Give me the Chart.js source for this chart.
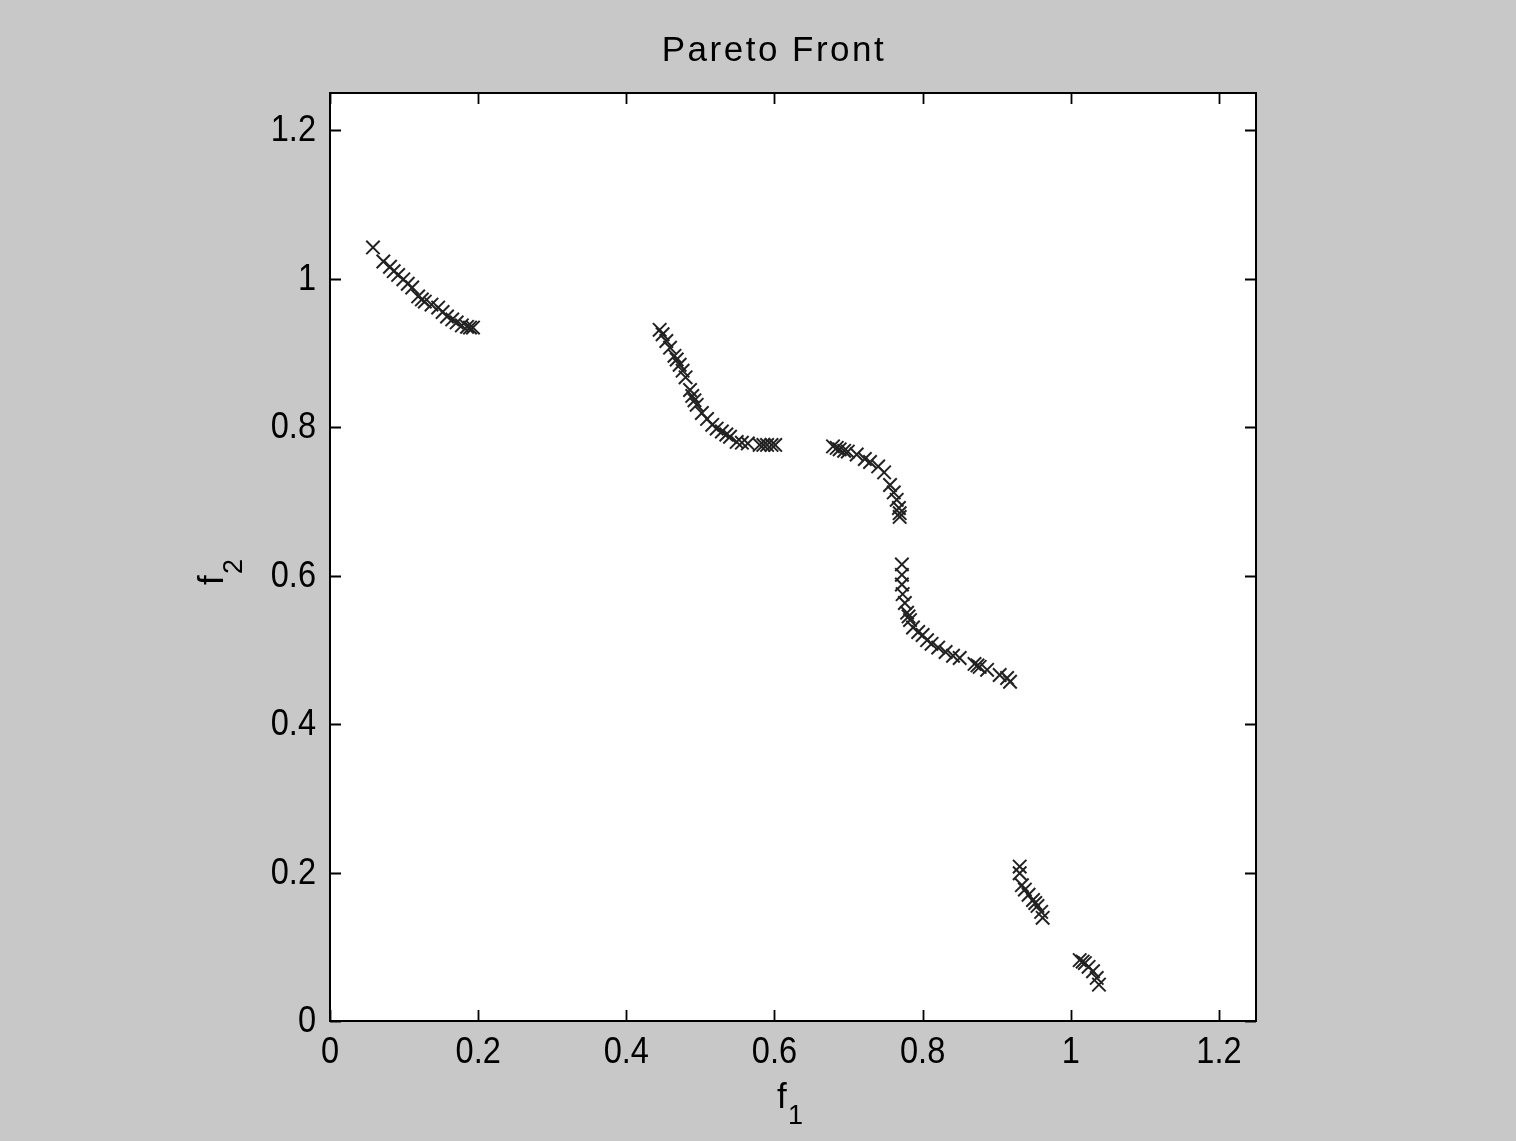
<!DOCTYPE html>
<html>
<head>
<meta charset="utf-8">
<title>Pareto Front</title>
<script src="https://cdn.jsdelivr.net/npm/chart.js@4.4.1/dist/chart.umd.min.js"></script>
<style>
  html, body { margin: 0; padding: 0; background: #c8c8c8; }
  #wrap { width: 1516px; height: 1141px; position: relative; }
</style>
</head>
<body>
<div id="wrap"><canvas id="pareto"></canvas></div>
<script>
/* global Chart */

// Objective values of the non-dominated solutions (f1, f2), one array per front segment
const frontA_f1 = [0.058, 0.072, 0.081, 0.086, 0.092, 0.099, 0.105, 0.111, 0.119, 0.124, 0.128, 0.137, 0.146, 0.152, 0.158, 0.165, 0.171, 0.178, 0.185, 0.189, 0.193];
const frontA_f2 = [1.042, 1.023, 1.016, 1.010, 1.005, 0.999, 0.993, 0.988, 0.976, 0.972, 0.969, 0.965, 0.961, 0.955, 0.949, 0.945, 0.941, 0.937, 0.935, 0.934, 0.934];

const frontB_f1 = [0.445, 0.449, 0.454, 0.459, 0.465, 0.468, 0.472, 0.476, 0.480, 0.486, 0.489, 0.492, 0.495, 0.502, 0.509, 0.516, 0.522, 0.529, 0.535, 0.540, 0.549, 0.556, 0.564, 0.580, 0.585, 0.590, 0.596, 0.601];
const frontB_f2 = [0.931, 0.925, 0.916, 0.907, 0.896, 0.891, 0.884, 0.876, 0.867, 0.850, 0.842, 0.836, 0.830, 0.819, 0.811, 0.803, 0.798, 0.794, 0.790, 0.787, 0.780, 0.779, 0.778, 0.776, 0.776, 0.776, 0.776, 0.776];

const frontC_f1 = [0.679, 0.684, 0.688, 0.694, 0.699, 0.711, 0.722, 0.729, 0.740, 0.748, 0.756, 0.761, 0.765, 0.768, 0.769, 0.769];
const frontC_f2 = [0.774, 0.772, 0.770, 0.768, 0.767, 0.763, 0.757, 0.753, 0.747, 0.739, 0.722, 0.712, 0.702, 0.691, 0.684, 0.679];

const frontD_f1 = [0.772, 0.772, 0.772, 0.773, 0.776, 0.779, 0.781, 0.783, 0.787, 0.794, 0.800, 0.806, 0.812, 0.821, 0.831, 0.841, 0.850, 0.870, 0.874, 0.877, 0.887, 0.904, 0.914, 0.918];
const frontD_f2 = [0.615, 0.601, 0.588, 0.575, 0.563, 0.550, 0.545, 0.540, 0.530, 0.524, 0.520, 0.513, 0.508, 0.503, 0.497, 0.492, 0.489, 0.481, 0.479, 0.477, 0.473, 0.466, 0.462, 0.457];

const frontE_f1 = [0.931, 0.931, 0.934, 0.938, 0.943, 0.949, 0.952, 0.955, 0.960, 0.962];
const frontE_f2 = [0.208, 0.199, 0.183, 0.177, 0.170, 0.163, 0.159, 0.155, 0.147, 0.139];

const frontF_f1 = [1.012, 1.016, 1.019, 1.024, 1.030, 1.035, 1.038];
const frontF_f2 = [0.082, 0.080, 0.078, 0.073, 0.067, 0.058, 0.049];

// Axis ticks (both axes share the same range)
const tickValues = [0, 0.2, 0.4, 0.6, 0.8, 1, 1.2];
const axisMin = 0;
const axisMax = 1.25;

const FONT = "'Liberation Sans', Arial, sans-serif";
const NARROW = 0.88; // horizontal squeeze for the tick digits

function toPoints(xs, ys) {
  return xs.map((x, i) => ({ x: x, y: ys[i] }));
}

const points = [].concat(
  toPoints(frontA_f1, frontA_f2),
  toPoints(frontB_f1, frontB_f2),
  toPoints(frontC_f1, frontC_f2),
  toPoints(frontD_f1, frontD_f2),
  toPoints(frontE_f1, frontE_f2),
  toPoints(frontF_f1, frontF_f2)
);

// draw text squeezed horizontally, anchored at (x, y) with the current align
function narrowText(ctx, text, x, y) {
  ctx.save();
  ctx.translate(x, y);
  ctx.scale(NARROW, 1);
  ctx.fillText(text, 0, 0);
  ctx.restore();
}

// Plot box, inward ticks on all four sides, tick labels and axis labels
const axesBox = {
  id: 'axesBox',
  beforeDraw(chart) {
    const ctx = chart.ctx;
    const a = chart.chartArea;
    ctx.save();
    ctx.fillStyle = '#ffffff';
    ctx.fillRect(a.left, a.top, a.right - a.left, a.bottom - a.top);
    ctx.restore();
  },
  afterDraw(chart) {
    const ctx = chart.ctx;
    const a = chart.chartArea;
    const xs = chart.scales.x;
    const ys = chart.scales.y;
    const tick = 11;

    ctx.save();
    ctx.strokeStyle = '#000000';
    ctx.lineWidth = 2;
    ctx.strokeRect(a.left, a.top, a.right - a.left, a.bottom - a.top);

    ctx.beginPath();
    tickValues.forEach((v) => {
      const px = Math.round(xs.getPixelForValue(v)) + 0.5;
      ctx.moveTo(px, a.bottom); ctx.lineTo(px, a.bottom - tick);
      ctx.moveTo(px, a.top); ctx.lineTo(px, a.top + tick);
      const py = Math.round(ys.getPixelForValue(v)) + 0.5;
      ctx.moveTo(a.left, py); ctx.lineTo(a.left + tick, py);
      ctx.moveTo(a.right, py); ctx.lineTo(a.right - tick, py);
    });
    ctx.lineWidth = 1.8;
    ctx.stroke();

    // tick labels
    ctx.fillStyle = '#000000';
    ctx.font = '37px ' + FONT;
    ctx.textAlign = 'center';
    ctx.textBaseline = 'top';
    tickValues.forEach((v) => {
      narrowText(ctx, String(v), xs.getPixelForValue(v), a.bottom + 13);
    });
    ctx.textAlign = 'right';
    ctx.textBaseline = 'middle';
    tickValues.forEach((v) => {
      narrowText(ctx, String(v), a.left - 14, ys.getPixelForValue(v) + 1);
    });

    // title
    ctx.font = '35px ' + FONT;
    ctx.letterSpacing = '2.5px';
    ctx.textAlign = 'center';
    ctx.textBaseline = 'alphabetic';
    ctx.fillText('Pareto Front', 774, 61);
    ctx.letterSpacing = '0px';

    // x label: f with subscript 1
    ctx.textAlign = 'left';
    ctx.font = '35px ' + FONT;
    ctx.fillText('f', 777, 1108);
    ctx.font = '27px ' + FONT;
    ctx.fillText('1', 788, 1124);

    // y label: f with subscript 2, rotated
    ctx.translate(223, 585);
    ctx.rotate(-Math.PI / 2);
    ctx.font = '35px ' + FONT;
    ctx.fillText('f', 0, 0);
    ctx.font = '27px ' + FONT;
    ctx.fillText('2', 11, 19);
    ctx.restore();
  },
};

new Chart(document.getElementById('pareto'), {
  type: 'scatter',
  data: {
    datasets: [{
      label: 'Pareto front',
      data: points,
      pointStyle: 'crossRot',
      pointRadius: 9.5,
      pointHoverRadius: 9.5,
      borderColor: '#222222',
      backgroundColor: '#222222',
      borderWidth: 2,
    }],
  },
  options: {
    responsive: true,
    maintainAspectRatio: false,
    animation: false,
    events: [],
    layout: { padding: { top: 93, right: 260, left: 0, bottom: 0 } },
    plugins: {
      legend: { display: false },
      tooltip: { enabled: false },
      title: { display: false },
    },
    scales: {
      x: {
        type: 'linear',
        min: axisMin,
        max: axisMax,
        grid: { display: false },
        border: { display: false },
        ticks: { display: false },
        afterBuildTicks: (s) => { s.ticks = tickValues.map((v) => ({ value: v })); },
        afterFit: (s) => { s.height = 120; },
      },
      y: {
        type: 'linear',
        min: axisMin,
        max: axisMax,
        grid: { display: false },
        border: { display: false },
        ticks: { display: false },
        afterBuildTicks: (s) => { s.ticks = tickValues.map((v) => ({ value: v })); },
        afterFit: (s) => { s.width = 330; },
      },
    },
  },
  plugins: [axesBox],
});
</script>
</body>
</html>
